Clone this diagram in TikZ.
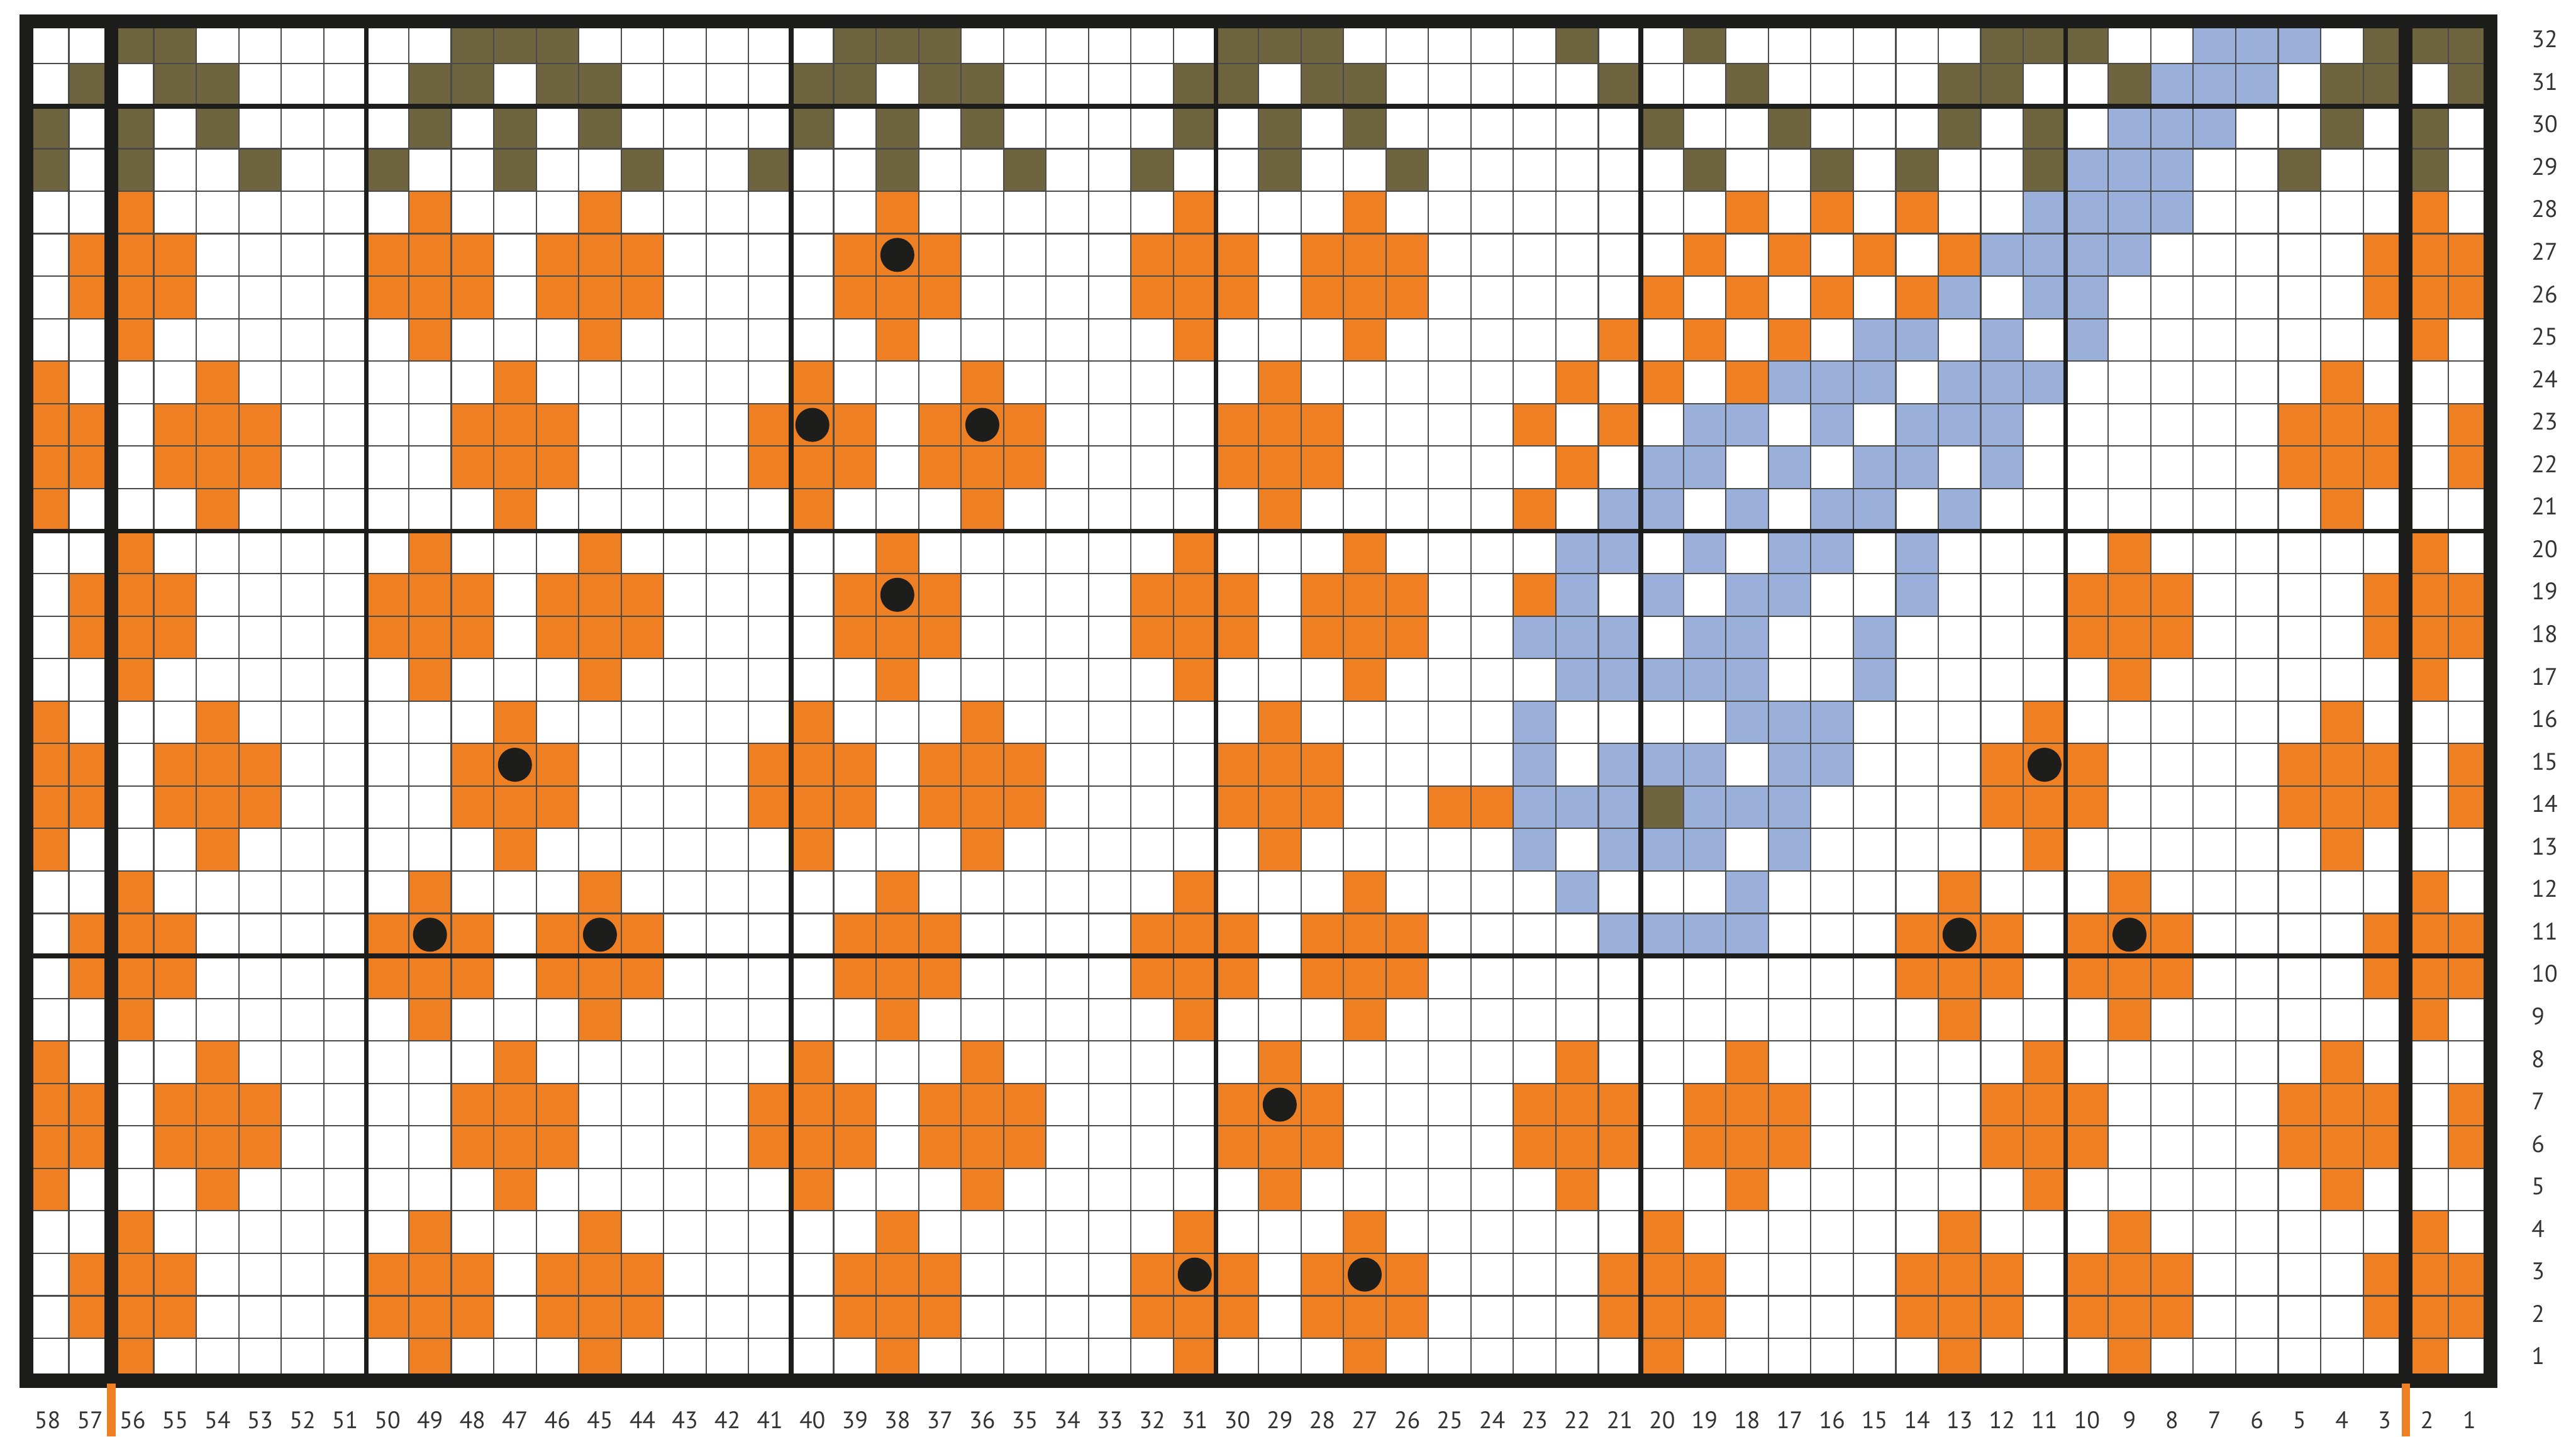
\documentclass[tikz,border=0pt]{standalone}
\usepackage{fontspec}
\setmainfont{PT Sans}
\usepackage{xcolor}
\usepackage{tikz}
\definecolor{potiron}{HTML}{EE7F22}
\definecolor{kaki}{HTML}{6F6440}
\definecolor{lavande}{HTML}{9AAFD9}
\definecolor{encre}{HTML}{1D1D1B}
\newcommand{\maille}[3]{\fill[#1] ({58-(#2)},{(#3)-1}) rectangle ++(1,1);}
\newcommand{\croix}[2]{\fill[potiron] ({58-(#1)},{(#2)-1}) -- ++(1,0) -- ++(0,1) -- ++(1,0) -- ++(0,2)
  -- ++(-1,0) -- ++(0,1) -- ++(-1,0) -- ++(0,-1) -- ++(-1,0) -- ++(0,-2) -- ++(1,0) -- cycle;}
\tikzset{
  fin/.style={draw=encre!80, line width=0.45pt},
  moyen/.style={draw=encre, line width=1.6pt},
  gros/.style={draw=encre, line width=4.7pt},
  numcol/.style={font=\fontsize{8}{9}\selectfont, text=encre!90, inner sep=0pt, anchor=base},
  numrang/.style={font=\fontsize{8}{9}\selectfont, text=encre!90, inner sep=0pt, anchor=base west},
  repere/.style={draw=potiron, line width=2.8pt},
}

\begin{document}
\begin{tikzpicture}[x=5mm,y=5mm]
  \useasboundingbox[fill=white] (-0.62,-1.31) rectangle (60.01,32.5);
  \fill[white] (0,0) rectangle (58,32);

  % croix orange, bandes de 4 rangs
  \begin{scope}
    \clip (0,0) rectangle (58,32);
    \foreach \r/\cs in {1/{56,49,45,38,31,27,20,13,9,2},
                        5/{58,54,47,40,36,29,22,18,11,4,0},
                        9/{56,49,45,38,31,27,13,9,2},
                        13/{58,54,47,40,36,29,11,4,0},
                        17/{56,49,45,38,31,27,9,2},
                        21/{58,54,47,40,36,29,4,0},
                        25/{56,49,45,38,31,27,2}}
      {\foreach \c in \cs {\croix{\c}{\r}}}
  \end{scope}

  \foreach \r/\cs in {28/{18,16,14}, 27/{19,17,15,13}, 26/{20,18,16,14}, 25/{21,19,17},
                      24/{22,20,18}, 23/{23,21}, 22/{22}, 21/{23}, 19/{23}, 14/{25,24}}
    {\foreach \c in \cs {\maille{potiron}{\c}{\r}}}

  % motif bleu
  \foreach \r/\cs in {32/{7,6,5}, 31/{8,7,6}, 30/{9,8,7}, 29/{10,9,8}, 28/{11,10,9,8},
                      27/{12,11,10,9}, 26/{13,11,10}, 25/{15,14,12,10},
                      24/{17,16,15,13,12,11}, 23/{19,18,16,14,13,12},
                      22/{20,19,17,15,14,12}, 21/{21,20,18,16,15,13},
                      20/{22,21,19,17,16,14}, 19/{22,20,18,17,14},
                      18/{23,22,21,19,18,15}, 17/{22,21,20,19,18,15},
                      16/{23,18,17,16}, 15/{23,21,20,19,17,16},
                      14/{23,22,21,19,18,17}, 13/{23,21,20,19,17},
                      12/{22,18}, 11/{21,20,19,18}}
    {\foreach \c in \cs {\maille{lavande}{\c}{\r}}}

  % bordure kaki
  \foreach \r/\cs in {32/{56,55,48,47,46,39,38,37,30,29,28,22,19,12,11,10,3,2,1},
                      31/{57,55,54,49,48,46,45,40,39,37,36,31,30,28,27,21,18,13,12,9,4,3,1},
                      30/{58,56,54,49,47,45,40,38,36,31,29,27,20,17,13,11,4,2},
                      29/{58,56,53,50,47,44,41,38,35,32,29,26,19,16,14,11,5,2},
                      14/{20}}
    {\foreach \c in \cs {\maille{kaki}{\c}{\r}}}

  \draw[fin] (0,0) grid[step=1] (58,32);
  \foreach \x in {8,18,28,38,48} \draw[moyen] (\x,0) -- (\x,32);
  \foreach \y in {10,20,30} \draw[moyen] (0,\y) -- (58,\y);
  \draw[gros] (2,0) -- (2,32);
  \draw[gros] (56,0) -- (56,32);
  \draw[gros] (0,0) rectangle (58,32);

  \foreach \c/\r in {38/27, 40/23, 36/23, 38/19, 47/15, 49/11, 45/11,
                     31/3, 27/3, 29/7, 11/15, 13/11, 9/11}
    \fill[encre] ({58.5-\c},{\r-0.5}) circle (0.4);

  \draw[repere] (2,-0.06) -- (2,-1.31);
  \draw[repere] (56,-0.06) -- (56,-1.31);

  \foreach \c in {1,...,58}
    \node[numcol] (c\c) at ({58.5-\c},-1.13) {\c};
  \foreach \r in {1,...,32}
    \node[numrang] (r\r) at (58.95,{\r-0.62}) {\r};
\end{tikzpicture}
\end{document}
